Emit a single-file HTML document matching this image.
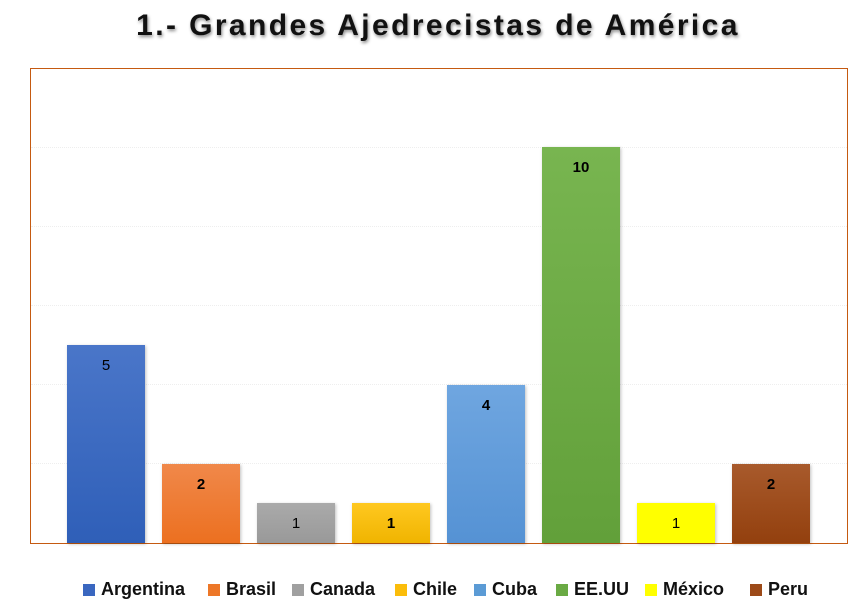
<!DOCTYPE html>
<html><head><meta charset="utf-8"><style>
body{margin:0;width:866px;height:615px;background:#fff;position:relative;overflow:hidden;font-family:"Liberation Sans",Arial,sans-serif}
.t{position:absolute;left:0;width:876px;top:9px;text-align:center;font-weight:bold;font-size:30px;letter-spacing:2.4px;color:#111;text-shadow:1px 2px 3px rgba(0,0,0,.45)}
.pa{position:absolute;left:30px;top:68px;width:816px;height:474px;border:1px solid #c55a11}
.g{position:absolute;left:31px;width:816px;border-top:1px dotted #eeeeee}
.b{position:absolute;width:78px;text-align:center;font-size:15px;box-shadow:1px 1px 3px rgba(0,0,0,.25)}
.b span{display:block;margin-top:12px}
.lg{position:absolute;top:579px;font-weight:bold;font-size:18px;color:#111;white-space:nowrap}
.lg i{display:inline-block;width:12px;height:12px;margin-right:6px;vertical-align:-1px}
</style></head><body>
<div class="t">1.- Grandes Ajedrecistas de América</div>
<div class="pa"></div>
<div class="g" style="top:463px"></div><div class="g" style="top:384px"></div><div class="g" style="top:305px"></div><div class="g" style="top:226px"></div><div class="g" style="top:147px"></div>
<div class="b" style="left:67px;top:345px;height:198px;background:linear-gradient(#4a76c9,#2f5fb8)"><span>5</span></div>
<div class="b" style="left:162px;top:464px;height:79px;background:linear-gradient(#f0884a,#ec7020)"><span style="font-weight:bold">2</span></div>
<div class="b" style="left:257px;top:503px;height:40px;background:linear-gradient(#aaa,#999)"><span>1</span></div>
<div class="b" style="left:352px;top:503px;height:40px;background:linear-gradient(#ffc820,#f0b400)"><span style="font-weight:bold">1</span></div>
<div class="b" style="left:447px;top:385px;height:158px;background:linear-gradient(#6fa6e0,#5592d4)"><span style="font-weight:bold">4</span></div>
<div class="b" style="left:542px;top:147px;height:396px;background:linear-gradient(#78b550,#62a03a)"><span style="font-weight:bold">10</span></div>
<div class="b" style="left:637px;top:503px;height:40px;background:#ffff00"><span>1</span></div>
<div class="b" style="left:732px;top:464px;height:79px;background:linear-gradient(#a85a2c,#93400e)"><span style="font-weight:bold">2</span></div>
<div class="lg" style="left:83px"><i style="background:#3a67c0"></i>Argentina</div>
<div class="lg" style="left:208px"><i style="background:#ed7728"></i>Brasil</div>
<div class="lg" style="left:292px"><i style="background:#a0a0a0"></i>Canada</div>
<div class="lg" style="left:395px"><i style="background:#fbbd0a"></i>Chile</div>
<div class="lg" style="left:474px"><i style="background:#5b9bd5"></i>Cuba</div>
<div class="lg" style="left:556px"><i style="background:#6aaa44"></i>EE.UU</div>
<div class="lg" style="left:645px"><i style="background:#ffff00"></i>México</div>
<div class="lg" style="left:750px"><i style="background:#9c4a18"></i>Peru</div>
</body></html>
